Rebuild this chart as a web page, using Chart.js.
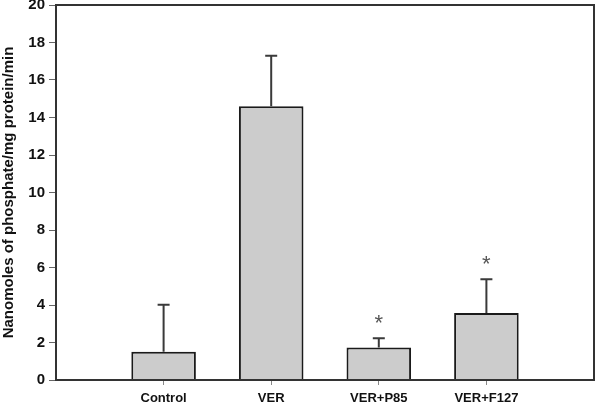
<!DOCTYPE html>
<html>
<head>
<meta charset="utf-8">
<script src="https://cdn.jsdelivr.net/npm/chart.js@4"></script>
<style>
  html, body { margin: 0; padding: 0; background: #fff; }
  #wrap { width: 600px; height: 406px; }
</style>
</head>
<body>
<div id="wrap"><canvas id="myChart"></canvas></div>
<script>
// padded with empty slots so the bars sit at 1..4 on a 0..5 axis
var groups = ['', 'Control', 'VER', 'VER+P85', 'VER+F127', ''];
var means = [null, 1.51, 14.6, 1.73, 3.57, null];
var errors = [null, 2.5, 2.7, 0.5, 1.8, null];
var marks = ['', '', '', '*', '*', ''];
var yTicks = [0, 2, 4, 6, 8, 10, 12, 14, 16, 18, 20];

var frameAndErrors = {
    id: 'frameAndErrors',
    afterDatasetsDraw: function (chart) {
        var ctx = chart.ctx;
        var x = chart.scales.x, y = chart.scales.y;
        ctx.save();
        // error bars
        ctx.strokeStyle = '#3a3a3a';
        ctx.lineWidth = 2;
        for (var i = 0; i < means.length; i++) {
            if (means[i] == null) continue;
            var px = x.getPixelForValue(i);
            var top = y.getPixelForValue(means[i] + errors[i]);
            var base = y.getPixelForValue(means[i]);
            ctx.beginPath();
            ctx.moveTo(px, base);
            ctx.lineTo(px, top);
            ctx.moveTo(px - 6, top);
            ctx.lineTo(px + 6, top);
            ctx.stroke();
            if (marks[i]) {
                ctx.fillStyle = '#555';
                ctx.font = '22px "Liberation Sans", Arial, sans-serif';
                ctx.textAlign = 'center';
                ctx.textBaseline = 'middle';
                ctx.fillText(marks[i], px, top - 14);
            }
        }
        // box frame
        var a = chart.chartArea;
        ctx.strokeStyle = '#333';
        ctx.lineWidth = 2;
        ctx.strokeRect(a.left, a.top, a.right - a.left, a.bottom - a.top);
        ctx.restore();
    }
};

var myChart = new Chart('myChart', {
    type: 'bar',
    data: {
        labels: groups,
        datasets: [{
            data: means,
            backgroundColor: '#cccccc',
            borderColor: '#1a1a1a',
            borderWidth: 2,
            barPercentage: 0.6,
            categoryPercentage: 1.0
        }]
    },
    options: {
        responsive: true,
        maintainAspectRatio: false,
        animation: false,
        layout: {
            padding: { top: 5, right: 6, left: 0, bottom: 0 }
        },
        plugins: {
            legend: { display: false },
            tooltip: { enabled: false }
        },
        scales: {
            x: {
                offset: false,
                border: { display: false },
                grid: {
                    offset: false,
                    drawOnChartArea: false,
                    drawTicks: true,
                    tickLength: 5,
                    tickColor: function (c) {
                        return groups[c.index] ? '#888' : 'rgba(0,0,0,0)';
                    }
                },
                ticks: {
                    autoSkip: false,
                    maxRotation: 0,
                    padding: 6,
                    color: '#111',
                    font: { family: '"Liberation Sans", Arial, sans-serif', size: 13, weight: 'bold' }
                },
                afterFit: function (s) { s.height = 26; }
            },
            y: {
                min: 0,
                max: 20,
                afterBuildTicks: function (s) {
                    s.ticks = yTicks.map(function (v) { return { value: v }; });
                },
                border: { display: false },
                grid: {
                    drawOnChartArea: false,
                    drawTicks: true,
                    tickLength: 7,
                    tickColor: '#666'
                },
                ticks: {
                    padding: 4,
                    color: '#111',
                    font: { family: '"Liberation Sans", Arial, sans-serif', size: 15, weight: 'bold' }
                },
                title: {
                    display: true,
                    text: 'Nanomoles of phosphate/mg protein/min',
                    color: '#111',
                    padding: { top: 0, bottom: 0 },
                    font: { family: '"Liberation Sans", Arial, sans-serif', size: 15, weight: 'bold' }
                },
                afterFit: function (s) {
                    s.width = 56;
                    s.paddingTop = 0;
                    s.paddingBottom = 0;
                }
            }
        }
    },
    plugins: [frameAndErrors]
});
</script>
</body>
</html>
